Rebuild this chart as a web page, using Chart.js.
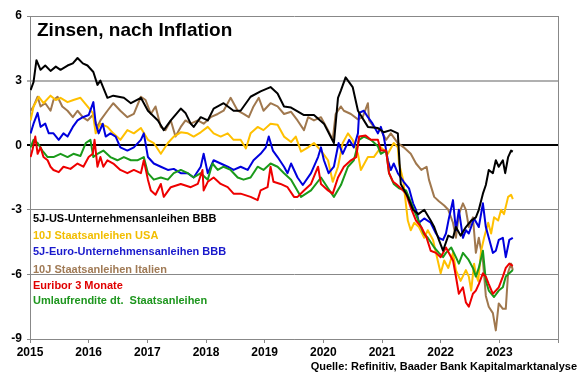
<!DOCTYPE html>
<html><head><meta charset="utf-8">
<script src="https://cdn.jsdelivr.net/npm/chart.js@4/dist/chart.umd.min.js"></script>
<style>html,body{margin:0;padding:0;background:#fff}#wrap{width:580px;height:374px;position:relative}</style>
</head><body><div id="wrap"><canvas id="c" width="580" height="374"></canvas></div>
<script>
const chartTitle = 'Zinsen, nach Inflation';
const sourceText = 'Quelle: Refinitiv, Baader Bank Kapitalmarktanalyse';
const seriesNames = [
  '5J-US-Unternehmensanleihen BBB',
  '10J Staatsanleihen USA',
  '5J-Euro-Unternehmensanleihen BBB',
  '10J Staatsanleihen Italien',
  'Euribor 3 Monate',
  'Umlaufrendite dt.  Staatsanleihen'
];
const yTickValues = [6, 3, 0, -3, -6, -9];
const xTickYears = [2015, 2016, 2017, 2018, 2019, 2020, 2021, 2022, 2023];

// [date as fractional year, real rate in %]
const usBBB = [[2015.01,2.56],[2015.06,2.93],[2015.11,3.95],[2015.18,3.5],[2015.26,3.7],[2015.35,3.45],[2015.44,3.65],[2015.52,3.5],[2015.64,3.7],[2015.73,3.8],[2015.81,4.05],[2015.90,3.8],[2015.98,3.7],[2016.08,3.4],[2016.15,2.8],[2016.20,3.0],[2016.32,2.2],[2016.42,2.3],[2016.60,2.2],[2016.72,1.95],[2016.89,2.2],[2017.01,1.6],[2017.18,1.15],[2017.28,0.7],[2017.40,1.15],[2017.57,1.7],[2017.65,1.5],[2017.74,1.0],[2017.79,0.85],[2017.91,1.3],[2018.03,1.15],[2018.13,1.7],[2018.30,1.95],[2018.47,1.6],[2018.59,1.6],[2018.76,2.25],[2018.93,2.5],[2019.10,2.7],[2019.22,2.4],[2019.33,1.8],[2019.45,1.75],[2019.67,1.4],[2019.84,1.4],[2020.01,1.0],[2020.18,0.1],[2020.25,2.2],[2020.30,2.55],[2020.38,3.15],[2020.50,2.7],[2020.59,1.6],[2020.76,0.85],[2020.93,0.8],[2021.03,0.6],[2021.15,0.7],[2021.27,0.55],[2021.32,-1.8],[2021.44,-2.4],[2021.53,-3.0],[2021.62,-3.2],[2021.72,-3.0],[2021.83,-3.5],[2021.89,-3.8],[2021.97,-4.4],[2022.04,-4.9],[2022.13,-4.2],[2022.21,-4.3],[2022.26,-3.8],[2022.34,-4.2],[2022.43,-3.8],[2022.52,-3.5],[2022.60,-3.35],[2022.65,-3.0],[2022.72,-2.25],[2022.77,-1.85],[2022.82,-1.15],[2022.89,-1.3],[2022.94,-0.7],[2022.99,-1.0],[2023.06,-0.7],[2023.10,-1.3],[2023.15,-0.55],[2023.20,-0.25],[2023.23,-0.3]];

const usTreasury10 = [[2015.01,1.15],[2015.06,1.8],[2015.15,2.25],[2015.23,1.95],[2015.35,2.3],[2015.44,2.1],[2015.52,2.2],[2015.64,2.0],[2015.74,2.1],[2015.86,2.2],[2015.98,1.8],[2016.07,1.5],[2016.12,0.55],[2016.20,1.0],[2016.32,0.85],[2016.42,0.55],[2016.54,0.25],[2016.66,0.7],[2016.77,0.55],[2016.89,0.8],[2017.01,0.25],[2017.11,0.1],[2017.23,-0.4],[2017.35,0.1],[2017.45,0.4],[2017.57,0.6],[2017.69,0.55],[2017.79,0.4],[2017.91,0.6],[2018.03,0.85],[2018.13,0.55],[2018.25,0.4],[2018.37,0.55],[2018.47,0.25],[2018.59,0.25],[2018.68,-0.15],[2018.76,0.55],[2018.88,0.85],[2018.98,0.7],[2019.10,1.0],[2019.22,0.95],[2019.33,0.4],[2019.45,0.15],[2019.53,0.4],[2019.62,-0.3],[2019.74,-0.1],[2019.84,0.1],[2019.96,-0.25],[2020.08,-0.7],[2020.16,-1.7],[2020.25,-1.0],[2020.33,0.1],[2020.42,0.55],[2020.50,0.25],[2020.59,-0.4],[2020.64,-1.15],[2020.76,-0.55],[2020.86,-0.55],[2020.98,-0.1],[2021.10,-0.4],[2021.20,0.1],[2021.27,-0.1],[2021.29,-0.85],[2021.36,-1.6],[2021.44,-3.5],[2021.49,-3.95],[2021.55,-3.6],[2021.63,-3.8],[2021.72,-4.3],[2021.78,-3.95],[2021.87,-4.4],[2021.95,-5.35],[2022.00,-5.95],[2022.06,-5.35],[2022.13,-5.7],[2022.21,-5.0],[2022.26,-5.8],[2022.34,-6.3],[2022.43,-5.8],[2022.48,-6.1],[2022.52,-6.75],[2022.57,-5.5],[2022.60,-6.0],[2022.64,-6.3],[2022.69,-4.9],[2022.74,-4.3],[2022.81,-3.6],[2022.86,-4.1],[2022.91,-3.35],[2022.98,-3.5],[2023.03,-3.0],[2023.08,-3.2],[2023.15,-2.4],[2023.20,-2.3],[2023.23,-2.5]];

const euroBBB = [[2015.01,0.55],[2015.06,1.0],[2015.13,1.5],[2015.18,0.85],[2015.26,1.0],[2015.32,0.55],[2015.40,0.55],[2015.49,0.25],[2015.57,0.55],[2015.64,0.4],[2015.73,0.85],[2015.81,1.15],[2015.90,1.3],[2016.00,1.4],[2016.08,2.0],[2016.12,1.0],[2016.17,0.55],[2016.24,1.0],[2016.29,0.4],[2016.37,0.55],[2016.46,0.4],[2016.54,-0.1],[2016.66,-0.25],[2016.77,-0.1],[2016.89,0.25],[2016.94,0.55],[2017.01,-0.55],[2017.11,-0.85],[2017.23,-1.0],[2017.35,-1.15],[2017.45,-1.1],[2017.57,-1.3],[2017.69,-1.3],[2017.79,-1.5],[2017.91,-1.0],[2017.96,-0.4],[2018.03,-1.3],[2018.13,-0.7],[2018.25,-0.85],[2018.37,-1.0],[2018.47,-1.15],[2018.59,-1.0],[2018.71,-1.15],[2018.81,-0.7],[2018.93,-0.4],[2019.02,-0.1],[2019.07,0.4],[2019.14,-0.25],[2019.22,-0.55],[2019.33,-1.0],[2019.39,-1.3],[2019.45,-0.85],[2019.56,-1.5],[2019.65,-1.85],[2019.79,-1.3],[2019.91,-0.55],[2019.96,-0.1],[2020.01,-0.7],[2020.09,-1.3],[2020.18,-1.0],[2020.26,0.1],[2020.33,-0.4],[2020.38,-0.1],[2020.44,0.25],[2020.52,-0.1],[2020.59,0.55],[2020.61,1.5],[2020.69,1.6],[2020.76,1.3],[2020.84,1.0],[2020.93,0.55],[2020.98,0.85],[2021.03,0.4],[2021.10,-0.7],[2021.15,-1.15],[2021.20,-0.85],[2021.27,-1.3],[2021.37,-1.7],[2021.46,-2.0],[2021.53,-2.7],[2021.58,-3.0],[2021.63,-3.6],[2021.72,-3.4],[2021.83,-3.6],[2021.92,-4.1],[2021.97,-4.3],[2022.04,-4.4],[2022.09,-4.1],[2022.14,-3.4],[2022.21,-2.55],[2022.26,-3.95],[2022.31,-3.0],[2022.38,-4.3],[2022.43,-3.95],[2022.48,-4.1],[2022.57,-3.4],[2022.65,-3.8],[2022.72,-2.7],[2022.77,-3.8],[2022.82,-4.3],[2022.89,-5.0],[2022.94,-4.9],[2022.99,-4.4],[2023.06,-4.3],[2023.11,-5.2],[2023.17,-4.4],[2023.23,-4.3]];

const italy10 = [[2015.01,1.6],[2015.06,1.8],[2015.13,2.25],[2015.18,1.8],[2015.26,1.95],[2015.35,1.6],[2015.40,2.1],[2015.47,2.25],[2015.55,1.8],[2015.64,1.6],[2015.73,1.3],[2015.81,1.6],[2015.90,1.3],[2015.98,1.15],[2016.07,1.4],[2016.15,0.85],[2016.20,1.15],[2016.32,1.6],[2016.42,1.95],[2016.54,1.6],[2016.66,1.3],[2016.77,1.45],[2016.89,2.25],[2016.97,2.1],[2017.06,1.45],[2017.14,1.8],[2017.23,0.85],[2017.31,0.7],[2017.40,1.15],[2017.48,0.4],[2017.57,0.85],[2017.65,1.15],[2017.74,1.0],[2017.86,1.15],[2017.96,1.0],[2018.08,1.3],[2018.20,1.45],[2018.30,1.6],[2018.42,2.2],[2018.54,1.6],[2018.64,1.45],[2018.73,1.3],[2018.81,1.8],[2018.90,2.2],[2018.98,1.6],[2019.10,1.95],[2019.22,1.8],[2019.33,1.45],[2019.45,1.55],[2019.56,1.15],[2019.67,0.7],[2019.74,1.3],[2019.84,1.15],[2019.96,1.3],[2020.08,0.7],[2020.16,0.25],[2020.21,1.45],[2020.30,1.8],[2020.35,1.6],[2020.47,1.45],[2020.59,1.2],[2020.67,1.3],[2020.76,1.95],[2020.78,1.15],[2020.86,0.85],[2020.98,0.7],[2021.07,0.25],[2021.15,0.55],[2021.27,0.1],[2021.37,-0.1],[2021.49,-0.4],[2021.58,-0.85],[2021.67,-1.15],[2021.76,-1.0],[2021.80,-1.6],[2021.89,-2.4],[2021.97,-2.6],[2022.06,-2.8],[2022.13,-3.0],[2022.21,-3.6],[2022.26,-4.3],[2022.31,-3.2],[2022.38,-2.7],[2022.43,-3.0],[2022.48,-3.8],[2022.55,-3.35],[2022.60,-5.0],[2022.65,-4.3],[2022.72,-5.35],[2022.77,-7.0],[2022.82,-7.5],[2022.89,-7.8],[2022.94,-8.6],[2022.99,-7.35],[2023.06,-7.6],[2023.11,-7.6],[2023.15,-5.9],[2023.20,-5.5],[2023.23,-5.8]];

const euribor3m = [[2015.01,-0.55],[2015.04,-0.25],[2015.09,0.4],[2015.13,-0.4],[2015.18,-0.1],[2015.23,-0.55],[2015.30,-0.7],[2015.35,-1.0],[2015.40,-1.15],[2015.49,-1.25],[2015.57,-1.0],[2015.69,-1.1],[2015.81,-0.85],[2015.91,-1.0],[2016.00,-0.55],[2016.07,-0.4],[2016.10,0.25],[2016.15,-1.0],[2016.20,-0.55],[2016.25,-1.0],[2016.32,-0.7],[2016.42,-0.85],[2016.54,-1.15],[2016.66,-1.3],[2016.77,-1.15],[2016.89,-1.3],[2016.94,-0.7],[2017.01,-1.6],[2017.06,-2.1],[2017.14,-2.3],[2017.23,-1.8],[2017.28,-2.4],[2017.40,-1.95],[2017.57,-1.8],[2017.74,-1.95],[2017.86,-1.8],[2017.94,-1.15],[2017.96,-2.1],[2018.03,-1.7],[2018.13,-1.5],[2018.25,-1.8],[2018.37,-1.95],[2018.47,-2.25],[2018.59,-2.25],[2018.76,-2.4],[2018.88,-2.55],[2018.93,-2.1],[2019.05,-1.95],[2019.10,-1.0],[2019.15,-1.7],[2019.27,-1.8],[2019.39,-1.95],[2019.50,-2.4],[2019.56,-2.4],[2019.67,-2.1],[2019.79,-1.8],[2019.91,-1.0],[2019.96,-1.8],[2020.08,-2.1],[2020.16,-2.25],[2020.25,-1.5],[2020.35,-1.0],[2020.47,-0.7],[2020.56,-0.55],[2020.61,0.4],[2020.72,0.45],[2020.81,0.25],[2020.93,0.25],[2020.98,-0.25],[2021.07,-0.25],[2021.12,-1.3],[2021.19,-1.7],[2021.24,-1.8],[2021.32,-2.0],[2021.41,-2.25],[2021.49,-2.9],[2021.58,-3.5],[2021.67,-3.8],[2021.76,-4.3],[2021.83,-4.9],[2021.92,-5.0],[2022.00,-5.2],[2022.09,-4.75],[2022.21,-5.35],[2022.26,-6.1],[2022.31,-6.9],[2022.38,-6.6],[2022.43,-7.3],[2022.48,-7.5],[2022.55,-6.9],[2022.60,-6.75],[2022.65,-6.45],[2022.72,-5.95],[2022.77,-6.1],[2022.82,-6.45],[2022.89,-6.9],[2022.94,-6.75],[2022.99,-6.6],[2023.06,-6.1],[2023.11,-5.7],[2023.17,-5.5],[2023.23,-5.6]];

const umlaufrendite = [[2015.01,-0.1],[2015.06,0.25],[2015.13,0.1],[2015.21,-0.25],[2015.30,-0.55],[2015.40,-0.55],[2015.52,-0.4],[2015.64,-0.55],[2015.74,-0.4],[2015.86,-0.5],[2015.95,0.1],[2016.03,0.25],[2016.08,-0.55],[2016.15,-0.4],[2016.25,-0.25],[2016.37,-0.55],[2016.49,-0.7],[2016.60,-0.55],[2016.72,-0.7],[2016.83,-0.7],[2016.94,-0.55],[2017.01,-1.3],[2017.11,-1.6],[2017.23,-1.5],[2017.35,-1.6],[2017.45,-1.3],[2017.57,-1.15],[2017.69,-1.3],[2017.79,-1.5],[2017.91,-1.3],[2018.03,-1.6],[2018.11,-0.85],[2018.20,-1.15],[2018.30,-1.0],[2018.42,-1.15],[2018.54,-1.5],[2018.64,-1.6],[2018.76,-1.5],[2018.88,-1.0],[2018.98,-1.15],[2019.10,-0.85],[2019.22,-1.0],[2019.33,-1.3],[2019.45,-1.6],[2019.62,-2.4],[2019.79,-2.1],[2019.96,-1.5],[2020.08,-2.0],[2020.18,-2.4],[2020.30,-1.85],[2020.42,-1.0],[2020.52,-0.7],[2020.61,0.25],[2020.69,0.4],[2020.81,0.25],[2020.93,-0.05],[2020.98,-0.4],[2021.07,-0.25],[2021.12,-1.3],[2021.20,-1.8],[2021.29,-2.0],[2021.41,-2.1],[2021.53,-2.9],[2021.62,-3.5],[2021.71,-4.1],[2021.78,-4.3],[2021.89,-4.75],[2021.97,-5.0],[2022.04,-5.2],[2022.09,-5.0],[2022.18,-4.75],[2022.26,-5.2],[2022.31,-5.5],[2022.38,-5.0],[2022.47,-5.3],[2022.55,-5.7],[2022.60,-6.1],[2022.65,-5.7],[2022.72,-4.9],[2022.77,-6.3],[2022.82,-6.75],[2022.91,-7.05],[2022.99,-6.75],[2023.06,-6.6],[2023.11,-6.1],[2023.17,-5.95],[2023.23,-5.8]];

const seriesData = [usBBB, usTreasury10, euroBBB, italy10, euribor3m, umlaufrendite];
const lineColors = ['#000000', '#FFC000', '#0000DD', '#A0784E', '#EE0000', '#1A9A1A'];
const textColors = ['#000000', '#F2BE00', '#1A1ACC', '#A07A55', '#E00000', '#1E961E'];
const drawOrder = [0, 4, 3, 5, 1, 2];

const FONT = 'Arial, "Liberation Sans", sans-serif';

const decoPlugin = {
  id: 'deco',
  afterDraw(chart) {
    const ctx = chart.ctx, a = chart.chartArea;
    ctx.save();
    ctx.strokeStyle = '#888';
    ctx.lineWidth = 1;
    ctx.beginPath();
    ctx.moveTo(a.right + 0.5, a.top);
    ctx.lineTo(a.right + 0.5, a.bottom);
    ctx.stroke();
    ctx.fillStyle = '#000';
    ctx.font = 'bold 19px ' + FONT;
    ctx.textBaseline = 'alphabetic';
    ctx.textAlign = 'left';
    ctx.fillText(chartTitle, 37, 36);
    const baselines = [222, 238.5, 254.5, 272.5, 289, 304];
    ctx.font = 'bold 11px ' + FONT;
    seriesNames.forEach((n, i) => {
      ctx.fillStyle = textColors[i];
      ctx.fillText(n, 33, baselines[i]);
    });
    ctx.fillStyle = '#000';
    ctx.font = 'bold 11px ' + FONT;
    ctx.textAlign = 'right';
    ctx.fillText(sourceText, 577, 370);
    ctx.restore();
  }
};

new Chart(document.getElementById('c'), {
  type: 'line',
  data: {
    datasets: seriesNames.map((n, i) => ({
      label: n,
      data: seriesData[i].map(p => ({x: p[0], y: p[1]})),
      borderColor: lineColors[i],
      backgroundColor: lineColors[i],
      borderWidth: 2,
      pointRadius: 0,
      tension: 0,
      fill: false,
      order: drawOrder[i],
      borderJoinStyle: 'round'
    }))
  },
  options: {
    responsive: false,
    animation: false,
    devicePixelRatio: 1,
    layout: { padding: { top: 16, right: 22, left: 0, bottom: 0 } },
    plugins: { legend: { display: false }, tooltip: { enabled: false } },
    scales: {
      x: {
        type: 'linear',
        min: 2015, max: 2024,
        afterBuildTicks(scale) { scale.ticks = xTickYears.concat([2024]).map(v => ({value: v})); },
        afterFit(scale) { scale.height = 35; },
        ticks: {
          callback: v => (xTickYears.includes(v) ? String(v) : ''),
          font: { family: FONT, size: 12, weight: 'bold' },
          color: '#000', maxRotation: 0, autoSkip: false, padding: 2
        },
        grid: { drawOnChartArea: false, drawTicks: true, tickLength: 4, color: '#888' },
        border: { display: true, color: '#888', width: 1 }
      },
      y: {
        min: -9, max: 6,
        afterBuildTicks(scale) { scale.ticks = yTickValues.map(v => ({value: v})); },
        afterFit(scale) { scale.width = 30; },
        ticks: {
          callback: v => String(v),
          font: { family: FONT, size: 12, weight: 'bold' },
          color: '#000', padding: 5
        },
        grid: {
          color: c => {
            const v = c.tick ? c.tick.value : null;
            if (v === 0) return '#000';
            if (v === 3) return '#b0b0b0';
            return '#888';
          },
          lineWidth: c => {
            const v = c.tick ? c.tick.value : null;
            if (v === 0) return 2;
            if (v === 3) return 2;
            return 1;
          },
          drawTicks: true, tickLength: 3
        },
        border: { display: true, color: '#888', width: 1 }
      }
    }
  },
  plugins: [decoPlugin]
});
</script>
</body></html>
